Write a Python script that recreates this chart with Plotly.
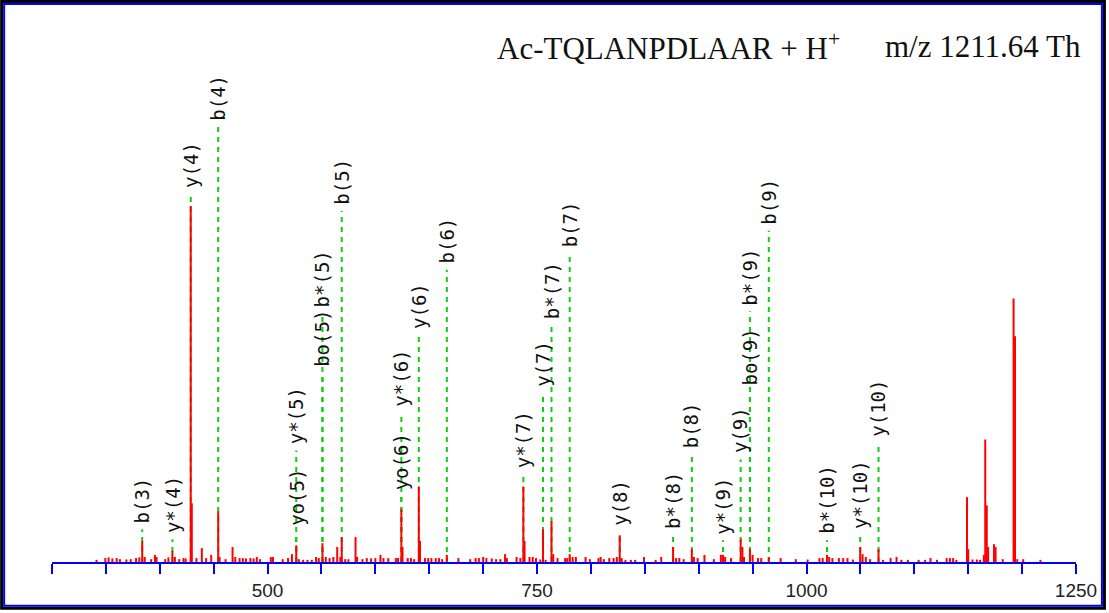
import plotly.graph_objects as go

# ---- spectrum: m/z and relative intensity (%) ----
mz = [341.3, 349.5, 352.5, 356, 360, 363, 369, 373, 378, 381, 383.7, 386, 392, 395.5, 397,
      405, 408, 411.7, 414, 418, 422, 424, 428.7, 429.7, 434, 439, 443, 447.7, 454.2, 455.5,
      461, 467.5, 470, 474, 477, 480, 484, 487, 490, 493, 503, 505, 514, 519, 522.6, 526.6,
      529, 533, 537, 541, 545, 547.5, 550.9, 554, 557.5, 561, 564.6, 567.5, 568.8, 572, 575,
      581.6, 583, 588, 592, 596, 600, 604.7, 607.5, 612, 619, 621, 624.1, 625.2, 630, 633,
      636, 640.3, 641.4, 646, 649, 652, 656, 659, 662, 666.3, 677, 688, 693, 696, 700, 703,
      708, 712, 716, 720.3, 722, 731, 734.5, 737.3, 738.4, 743, 746, 749, 753, 755.5, 758,
      763.4, 765, 769, 776, 778, 780.3, 783, 786, 795, 799, 807, 809, 812, 817, 821, 824,
      826.7, 828.5, 832, 837, 841, 849.2, 860, 865.2, 876.2, 879, 882, 886, 893.6, 895.5,
      899, 905.3, 914, 920.5, 922.5, 924.5, 930, 938.9, 940.5, 942, 947.5, 950, 955, 958,
      965, 976, 990, 1001, 1012, 1015, 1019, 1021, 1024, 1030, 1034, 1038, 1043, 1049.8,
      1052, 1055, 1059, 1066.8, 1071, 1078, 1083.5, 1088, 1094, 1104, 1110, 1115, 1121,
      1130, 1133, 1136, 1139, 1148.9, 1150, 1154, 1158, 1161, 1164.5, 1165.8, 1167.2,
      1168.5, 1173.9, 1175.4, 1182, 1192.1, 1193.4, 1195.5, 1201, 1217]
intensity = [0.6, 1.1, 1.3, 1.0, 1.1, 0.8, 0.7, 0.8, 1.1, 1.3, 5.9, 1.4, 0.8, 2.0, 1.4,
             0.8, 1.3, 3.1, 1.4, 0.8, 1.1, 1.0, 100.0, 16.5, 1.1, 3.9, 1.1, 2.0, 14.2, 1.4,
             0.8, 4.2, 1.4, 1.1, 1.1, 1.0, 1.1, 1.0, 1.4, 0.8, 1.4, 1.4, 0.8, 1.1, 2.2, 4.7,
             0.8, 0.6, 0.6, 0.6, 1.4, 1.1, 5.3, 1.4, 1.1, 1.4, 4.2, 1.4, 7.0, 0.8, 0.8,
             7.0, 1.4, 0.8, 1.1, 1.0, 1.1, 2.0, 1.1, 1.1, 1.1, 1.1, 14.8, 4.2, 1.1, 1.1,
             0.8, 21.2, 5.9, 1.1, 1.1, 1.1, 1.1, 1.1, 0.8, 2.0, 1.1, 0.8, 1.1, 1.1, 1.4, 1.1,
             1.0, 0.8, 0.8, 2.2, 1.1, 1.4, 1.1, 21.2, 5.9, 1.4, 1.4, 1.1, 0.7, 9.2, 0.6,
             11.5, 2.2, 1.1, 1.1, 1.1, 2.2, 1.4, 1.4, 1.4, 0.8, 1.1, 1.4, 0.8, 1.1, 1.1, 1.4,
             7.5, 1.1, 0.6, 0.6, 0.6, 1.4, 0.6, 1.4, 4.2, 1.1, 1.1, 0.8, 3.6, 1.4,
             1.1, 2.0, 0.8, 2.0, 2.0, 1.4, 1.1, 6.4, 4.2, 1.4, 3.6, 2.0, 1.1, 1.1,
             1.4, 1.1, 0.8, 0.7, 1.1, 1.1, 2.0, 1.4, 1.1, 1.1, 1.1, 1.1, 0.7, 4.2,
             2.2, 1.4, 0.8, 3.6, 0.6, 1.1, 1.4, 0.6, 0.6, 0.6, 0.6, 1.1, 0.6,
             1.1, 1.1, 1.1, 0.6, 18.2, 3.6, 0.7, 0.7, 0.6, 2.0, 34.4, 15.9,
             4.2, 5.0, 4.2, 0.8, 74.0, 63.4, 0.8, 0.8, 0.6]

# ---- fragment ion assignments ----
ion_names = ["b(3)", "y*(4)", "y(4)", "b(4)", "yo(5)", "y*(5)", "bo(5)", "b*(5)", "b(5)",
             "yo(6)", "y*(6)", "y(6)", "b(6)", "y*(7)", "y(7)", "b*(7)", "b(7)", "y(8)",
             "b*(8)", "b(8)", "y*(9)", "y(9)", "bo(9)", "b*(9)", "b(9)", "b*(10)",
             "y*(10)", "y(10)"]
ion_mz = [383.7, 411.7, 428.7, 454.2, 526.6, 526.6, 550.9, 550.9, 568.8,
          624.1, 624.1, 640.3, 666.3, 737.3, 755.5, 763.4, 780.3, 826.7,
          876.2, 893.6, 922.5, 938.9, 947.5, 947.5, 965.0, 1019.0,
          1049.8, 1066.8]
# height (in intensity units) at which each label starts
label_level = [10.6, 7.8, 104.7, 123.7, 9.8, 32.7, 54.5, 71.2, 100.0,
               19.8, 43.3, 65.1, 83.5, 26.0, 48.9, 67.9, 88.0, 9.8,
               8.9, 31.6, 7.5, 30.2, 49.4, 71.8, 94.4, 7.5,
               8.9, 34.9]

x_labelled = [500, 750, 1000, 1250]

W, H = 1109, 613
ML, MR, MT, MB = 52, 30, 20, 48
PW, PH = W - ML - MR, H - MT - MB
Y_TOP = 152.2
GAP = 1.4
BLUE = "#0000ff"


def px(x):
    return (x - ML) / PW


def py(y):
    return (H - MB - y) / PH


fig = go.Figure()

# dashed assignment guides (drawn first so peaks sit on top)
gx, gy = [], []
for m, lv in zip(ion_mz, label_level):
    gx += [m, m, None]
    gy += [0, lv - GAP, None]
fig.add_trace(go.Scatter(x=gx, y=gy, mode="lines", hoverinfo="skip",
                         line=dict(color="#11cc11", width=2, dash="5px,5px")))

# centroid sticks
sx, sy = [], []
for m, v in zip(mz, intensity):
    sx += [m, m, None]
    sy += [0, v, None]
fig.add_trace(go.Scatter(x=sx, y=sy, mode="lines", hoverinfo="skip",
                         line=dict(color="#ff0000", width=2)))

annotations = []
for name, m, lv in zip(ion_names, ion_mz, label_level):
    annotations.append(dict(x=m, y=lv, xref="x", yref="y", text=name, textangle=-90,
                            showarrow=False, xanchor="center", yanchor="bottom",
                            borderpad=0,
                            font=dict(family="DejaVu Sans Mono", size=19, color="#111111")))

annotations.append(dict(x=px(496), y=py(47), xref="paper", yref="paper",
                        text="Ac-TQLANPDLAAR + H<sup>+</sup>", showarrow=False,
                        xanchor="left", yanchor="middle",
                        font=dict(family="Liberation Serif", size=31, color="#111111")))
annotations.append(dict(x=px(1086), y=py(47), xref="paper", yref="paper",
                        text="m/z 1211.64 Th", showarrow=False,
                        xanchor="right", yanchor="middle",
                        font=dict(family="Liberation Serif", size=31, color="#111111")))

# window frame: dark outer edge with a blue inner rule
shapes = [
    dict(type="rect", xref="paper", yref="paper", x0=px(1.5), x1=px(W - 1.5),
         y0=py(H - 1.5), y1=py(1.5),
         line=dict(color="#000000", width=3), fillcolor="rgba(0,0,0,0)", layer="above"),
    dict(type="rect", xref="paper", yref="paper", x0=px(4), x1=px(W - 4),
         y0=py(H - 4), y1=py(4),
         line=dict(color=BLUE, width=2), fillcolor="rgba(0,0,0,0)", layer="above"),
]

fig.update_layout(
    width=W, height=H,
    margin=dict(l=ML, r=MR, t=MT, b=MB, pad=0),
    paper_bgcolor="white", plot_bgcolor="white",
    showlegend=False,
    xaxis=dict(range=[300, 1250], showgrid=False, zeroline=False,
               showline=True, linecolor=BLUE, linewidth=2,
               ticks="outside", ticklen=10, tickwidth=2, tickcolor=BLUE,
               tickvals=x_labelled, ticktext=[str(v) for v in x_labelled],
               minor=dict(tick0=300, dtick=50, ticks="outside", ticklen=10,
                          tickwidth=2, tickcolor=BLUE, showgrid=False),
               tickfont=dict(family="Liberation Sans", size=19, color="#222222")),
    yaxis=dict(range=[0, Y_TOP], visible=False),
    annotations=annotations,
    shapes=shapes,
)

fig.write_html("out.html")
